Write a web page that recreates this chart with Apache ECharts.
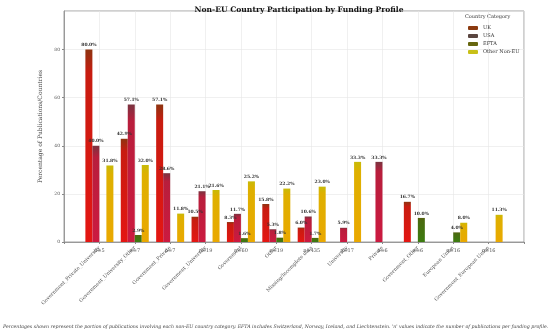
<!DOCTYPE html>
<html><head><meta charset="utf-8">
<script src="https://cdn.jsdelivr.net/npm/echarts@6/dist/echarts.min.js"></script>
<style>html,body{margin:0;padding:0;background:#fff}#c{width:550px;height:335px}</style>
</head><body><div id="c"></div>
<script>
const categories = ['Government_Private_University','Government_University_Other','Government_Private','Government_University','Government','Other','Missing/Incomplete data','University','Private','Government_Other','European Union','Government_European Union'];
const nValues = [5,7,7,19,60,19,435,17,6,6,16,16];
const seriesNames = ['UK','USA','EFTA','Other Non-EU'];
const ukValues    = [80.0,42.9,57.1,10.5,8.3,15.8,6.0,0,0,16.7,0,0];
const usaValues   = [40.0,57.1,28.6,21.1,11.7,5.3,10.6,5.9,33.3,0,0,0];
const eftaValues  = [0,2.9,0,0,1.6,1.8,1.7,0,0,10.0,4.0,0];
const otherValues = [31.8,32.0,11.8,21.6,25.2,22.2,23.0,33.3,0,0,8.0,11.3];
const yTicks = [0,20,40,60,80];

const serif = 'DejaVu Serif';
const legendColors = ['#8b3a0f','#5a4640','#66660f','#c8c018'];
const grads = [
  ['#8e3410','#c81c10','#e41612'],
  ['#7a3440','#b81e3c','#cc1a40'],
  ['#56600e','#4a6a10','#3c7c10'],
  ['#c8ba08','#deb000','#eaa800']
];
function grad(c){return {type:'linear',x:0,y:0,x2:0,y2:1,colorStops:[{offset:0,color:c[0]},{offset:0.12,color:c[1]},{offset:1,color:c[2]}]};}
const pad = a => [null].concat(a.map(v => v === 0 ? null : v)).concat([null]);
const cats = [''].concat(categories).concat(['']);
const nCats = [''].concat(nValues.map(n => 'n=' + n)).concat(['']);
const allVals = [ukValues, usaValues, eftaValues, otherValues];

const gridPos = {left:64, right:26, top:11, bottom:93};
const chart = echarts.init(document.getElementById('c'));
chart.setOption({
  animation:false,
  title:{text:'Non-EU Country Participation by Funding Profile', left:294, textAlign:'center', top:1,
    textStyle:{fontFamily:serif, fontWeight:'bold', fontSize:7.6, color:'#111'}},
  grid:[Object.assign({show:true, borderColor:'#888', borderWidth:0.8, containLabel:false}, gridPos),
        Object.assign({show:false}, gridPos)],
  legend:{orient:'vertical', left:463, top:20, itemWidth:10, itemHeight:4, itemGap:2,
    textStyle:{fontFamily:serif, fontSize:5, color:'#333', lineHeight:6},
    data: seriesNames.map((n,i)=>({name:n, itemStyle:{color:legendColors[i]}}))},
  graphic:[
    {type:'text', left:465, top:14, style:{text:'Country Category', font:'5px "DejaVu Serif"', fill:'#333'}},
    {type:'text', left:3, top:324, style:{text:"Percentages shown represent the portion of publications involving each non-EU country category. EFTA includes Switzerland, Norway, Iceland, and Liechtenstein. 'n' values indicate the number of publications per funding profile.", font:'italic 4.7px "DejaVu Serif"', fill:'#444'}}
  ],
  xAxis:[
    {type:'category', gridIndex:0, data:cats, boundaryGap:false,
     axisLine:{lineStyle:{color:'#888', width:0.8}},
     axisTick:{show:true, length:2, lineStyle:{color:'#888'}},
     splitLine:{show:true, lineStyle:{color:'#e6e6e6', width:0.6}},
     axisLabel:{rotate:45, margin:5, fontFamily:serif, fontSize:5, color:'#555', interval:0}},
    {type:'category', gridIndex:1, data:nCats, boundaryGap:false,
     axisLine:{show:false}, axisTick:{show:false}, splitLine:{show:false},
     axisLabel:{rotate:0, margin:6, fontFamily:serif, fontSize:5, color:'#555', interval:0}}
  ],
  yAxis:[
    {type:'value', gridIndex:0, min:0, max:96, interval:20,
     name:'Percentage of Publications/Countries', nameLocation:'middle', nameGap:14,
     nameTextStyle:{fontFamily:serif, fontSize:6, color:'#444'},
     axisLine:{show:true, lineStyle:{color:'#888', width:0.8}},
     axisTick:{show:true, length:2, lineStyle:{color:'#888'}},
     splitLine:{show:true, lineStyle:{color:'#e6e6e6', width:0.6}},
     axisLabel:{showMaxLabel:false, margin:4, fontFamily:serif, fontSize:4.5, color:'#555',
       formatter: v => yTicks.indexOf(v) >= 0 ? String(v) : ''}},
    {type:'value', gridIndex:1, min:0, max:96, show:false}
  ],
  series: seriesNames.map((name,i)=>({
    name, type:'bar', xAxisIndex:0, yAxisIndex:0, data: pad(allVals[i]),
    barWidth:7, barGap:'0%',
    itemStyle:{color:grad(grads[i])},
    label:{show:true, position:'top', distance:2, fontFamily:serif, fontWeight:'bold', fontSize:4.5, color:'#333',
      formatter: p => (p.value == null ? '' : p.value.toFixed(1) + '%')}
  }))
});
</script></body></html>
